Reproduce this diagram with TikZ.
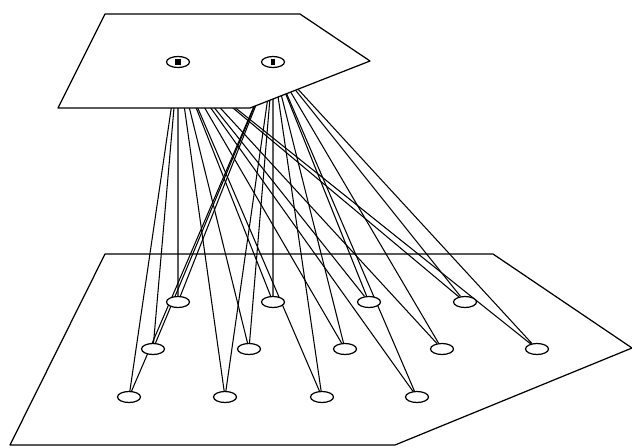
\documentclass[tikz,border=0pt]{standalone}
\usepackage{tikz}
\usetikzlibrary{shapes.geometric}
\pgfdeclarelayer{back}
\pgfdeclarelayer{mid}
\pgfsetlayers{back,mid,main}
\tikzset{unit/.style={draw, ellipse, fill=white, inner sep=0pt, line width=0.7pt,
  minimum width=0.46cm, minimum height=0.22cm},
  hub/.style={unit, font=\tiny},
  layer/.style={draw, fill=white, line width=0.7pt, line join=round},
  link/.style={line width=0.6pt}}

\begin{document}
\begin{tikzpicture}[x=0.02cm, y=-0.02cm]
  \useasboundingbox (0,0) rectangle (632,447);
  \node[hub] (a1) at (178,62) {\rule[-0.7mm]{1.1mm}{1.1mm}};
  \node[hub] (a2) at (273,62) {\rule[-0.7mm]{0.8mm}{1.2mm}};
  \foreach \x/\y [count=\i] in {178/302, 273/302, 369/302, 465/302,
      153/349, 249/349, 345/349, 442/349, 537/349,
      129/397, 225/397, 322/397, 417/397}
    \node[unit] (b\i) at (\x,\y) {};
  \begin{pgfonlayer}{back}
    \draw[layer] (105,254) -- (493,254) -- (632,348) -- (395,445) -- (10,445) -- cycle;
    \foreach \i in {1,...,13}
      \draw[link] (a1.center) -- (b\i) (a2.center) -- (b\i);
  \end{pgfonlayer}
  \begin{pgfonlayer}{mid}
    \draw[layer] (105,14) -- (300,14) -- (370,61) -- (250,108) -- (58,108) -- cycle;
  \end{pgfonlayer}
\end{tikzpicture}
\end{document}
